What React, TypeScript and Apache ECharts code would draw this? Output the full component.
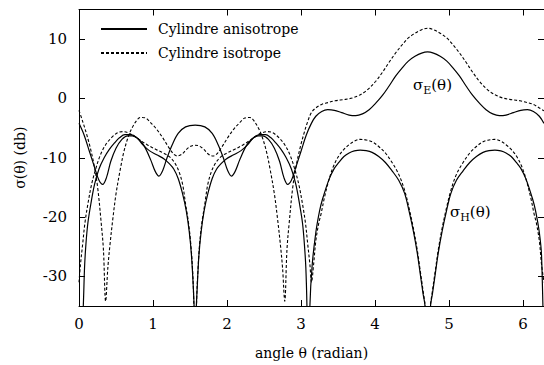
import React, { useEffect, useRef } from "react";
import * as echarts from "echarts";

const FONT = "DejaVu Serif";

const legendNames = ["Cylindre anisotrope", "Cylindre isotrope"];
const xTitle = "angle θ (radian)";
const yTitle = "σ(θ) (db)";

// σE(θ) – anisotropic cylinder (solid)
const sigmaEAniso: [number, number][] = [
  [0, -4.2], [0.07, -6.2], [0.14, -8.9], [0.22, -12.0], [0.27, -13.8], [0.32, -14.5], [0.37, -13.4],
  [0.43, -10.6], [0.5, -8.4], [0.58, -6.9], [0.66, -6.3], [0.72, -6.3], [0.8, -6.8], [0.88, -8.0],
  [0.97, -10.4], [1.03, -12.3], [1.08, -13.1], [1.13, -12.2], [1.19, -10.0], [1.26, -7.8], [1.34, -5.9],
  [1.44, -4.8], [1.57, -4.5], [1.7, -4.8], [1.8, -5.9], [1.88, -7.8], [1.95, -10.0], [2.01, -12.2],
  [2.06, -13.1], [2.11, -12.3], [2.17, -10.4], [2.26, -8.0], [2.34, -6.8], [2.42, -6.3], [2.48, -6.3],
  [2.56, -6.9], [2.64, -8.4], [2.71, -10.6], [2.77, -13.4], [2.82, -14.5], [2.87, -13.8], [2.92, -12.0],
  [3.0, -8.9], [3.07, -6.2], [3.14, -4.2], [3.2, -3.0], [3.28, -2.2], [3.36, -1.9], [3.45, -2.0],
  [3.55, -2.4], [3.65, -2.8], [3.74, -2.9], [3.83, -2.6], [3.92, -1.9], [4.01, -0.8], [4.1, 0.5],
  [4.19, 2.1], [4.28, 3.8], [4.37, 5.2], [4.45, 6.3], [4.54, 7.1], [4.63, 7.65], [4.71, 7.85],
  [4.79, 7.65], [4.88, 7.1], [4.97, 6.3], [5.05, 5.2], [5.14, 3.8], [5.23, 2.1], [5.32, 0.5],
  [5.41, -0.8], [5.5, -1.9], [5.59, -2.6], [5.68, -2.9], [5.77, -2.8], [5.87, -2.4], [5.97, -2.0],
  [6.06, -1.9], [6.14, -2.2], [6.22, -3.0], [6.2832, -4.2],
];

// σE(θ) – isotropic cylinder (dashed)
const sigmaEIso: [number, number][] = [
  [0, -2.0], [0.05, -3.9], [0.1, -5.9], [0.15, -8.2], [0.2, -11.0], [0.25, -14.8], [0.3, -21],
  [0.33, -25.5], [0.36, -34.2], [0.39, -28.5], [0.42, -24.5], [0.46, -20], [0.5, -16.1], [0.56, -11.8],
  [0.61, -8.8], [0.67, -6.3], [0.72, -4.9], [0.78, -3.7], [0.83, -3.2], [0.9, -3.3], [0.97, -4.1],
  [1.05, -5.2], [1.13, -6.6], [1.21, -8.2], [1.28, -9.4], [1.33, -9.7], [1.39, -9.4], [1.46, -8.5],
  [1.52, -8.0], [1.57, -7.9], [1.62, -8.0], [1.68, -8.5], [1.75, -9.4], [1.81, -9.7], [1.86, -9.4],
  [1.93, -8.2], [2.01, -6.6], [2.09, -5.2], [2.17, -4.1], [2.24, -3.3], [2.31, -3.2], [2.36, -3.7],
  [2.42, -4.9], [2.47, -6.3], [2.53, -8.8], [2.58, -11.8], [2.64, -16.1], [2.68, -20], [2.72, -24.5],
  [2.75, -28.5], [2.78, -34.2], [2.81, -25.5], [2.84, -21], [2.89, -14.8], [2.94, -11.0], [2.99, -8.2],
  [3.04, -5.9], [3.09, -3.9], [3.14, -2.4], [3.2, -1.6], [3.28, -1.0], [3.36, -0.7], [3.46, -0.4],
  [3.6, -0.15], [3.7, 0.1], [3.78, 0.5], [3.85, 1.0], [3.92, 1.7], [4.01, 2.9], [4.1, 4.4],
  [4.19, 6.1], [4.28, 7.7], [4.37, 9.1], [4.45, 10.2], [4.54, 11.0], [4.63, 11.6], [4.71, 11.85],
  [4.79, 11.6], [4.88, 11.0], [4.97, 10.2], [5.05, 9.1], [5.14, 7.7], [5.23, 6.1], [5.32, 4.4],
  [5.41, 2.9], [5.5, 1.7], [5.57, 1.0], [5.64, 0.5], [5.72, 0.1], [5.82, -0.15], [5.96, -0.4],
  [6.06, -0.7], [6.14, -1.0], [6.22, -1.6], [6.2832, -2.1],
];

// σH(θ) – anisotropic cylinder (solid)
const sigmaHAniso: [number, number][] = [
  [0, -50], [0.03, -42], [0.058, -35], [0.075, -28.5], [0.094, -24.5], [0.12, -21], [0.16, -17.8],
  [0.21, -14.5], [0.27, -11.9], [0.34, -10], [0.41, -8.6], [0.48, -7.5], [0.55, -6.6], [0.62, -6.1],
  [0.7, -6.1], [0.78, -6.6], [0.86, -7.8], [0.95, -8.8], [1.05, -9.5], [1.15, -10.2], [1.22, -11.0],
  [1.28, -11.9], [1.34, -13.5], [1.4, -16.1], [1.45, -19], [1.49, -22.5], [1.52, -26.5], [1.545, -32],
  [1.56, -37], [1.5708, -50], [1.58, -37], [1.597, -32], [1.62, -26.5], [1.65, -22.5], [1.69, -19],
  [1.74, -16.1], [1.8, -13.5], [1.86, -11.9], [1.92, -11.0], [1.99, -10.2], [2.09, -9.5], [2.19, -8.8],
  [2.28, -7.8], [2.36, -6.6], [2.44, -6.1], [2.52, -6.1], [2.59, -6.6], [2.66, -7.5], [2.73, -8.6],
  [2.8, -10], [2.87, -11.9], [2.93, -14.5], [2.98, -17.8], [3.02, -21], [3.045, -24.5], [3.065, -28.5],
  [3.08, -35], [3.1, -50], [3.12, -35], [3.15, -28.2], [3.2, -22.6], [3.25, -19], [3.29, -17],
  [3.38, -13.6], [3.45, -11.8], [3.51, -10.8], [3.58, -9.8], [3.65, -9.2], [3.72, -8.85], [3.8, -8.7],
  [3.88, -8.8], [3.96, -9.1], [4.05, -9.8], [4.14, -10.8], [4.23, -12.2], [4.32, -13.8], [4.4, -16],
  [4.46, -19], [4.52, -22.5], [4.57, -26], [4.61, -29.5], [4.65, -33], [4.675, -35], [4.712, -50],
  [4.75, -35], [4.775, -33], [4.815, -29.5], [4.855, -26], [4.905, -22.5], [4.965, -19], [5.025, -16],
  [5.1, -13.8], [5.19, -12.2], [5.28, -10.8], [5.37, -9.8], [5.46, -9.1], [5.54, -8.8], [5.62, -8.7],
  [5.7, -8.85], [5.77, -9.2], [5.84, -9.8], [5.91, -10.8], [5.97, -11.8], [6.04, -13.6], [6.13, -17],
  [6.17, -19], [6.22, -22.6], [6.25, -26.5], [6.2832, -45],
];

// σH(θ) – isotropic cylinder (dashed)
const sigmaHIso: [number, number][] = [
  [0, -31], [0.02, -28], [0.05, -24.5], [0.08, -21], [0.12, -17.8], [0.17, -14.5], [0.23, -11.7],
  [0.29, -9.5], [0.36, -7.8], [0.44, -6.6], [0.52, -5.8], [0.59, -5.6], [0.67, -5.8], [0.74, -6.3],
  [0.81, -6.9], [0.92, -7.8], [1.04, -8.6], [1.14, -9.2], [1.22, -9.8], [1.29, -10.8], [1.35, -12.3],
  [1.4, -14.5], [1.44, -17.8], [1.48, -21], [1.51, -24.5], [1.535, -29], [1.55, -34], [1.5708, -50],
  [1.59, -34], [1.607, -29], [1.63, -24.5], [1.66, -21], [1.7, -17.8], [1.74, -14.5], [1.79, -12.3],
  [1.85, -10.8], [1.92, -9.8], [2.0, -9.2], [2.1, -8.6], [2.22, -7.8], [2.33, -6.9], [2.4, -6.3],
  [2.47, -5.8], [2.55, -5.6], [2.62, -5.8], [2.7, -6.6], [2.78, -7.8], [2.85, -9.5], [2.91, -11.7],
  [2.97, -14.5], [3.02, -17.8], [3.06, -21], [3.09, -24.5], [3.12, -28], [3.1416, -31], [3.17, -28],
  [3.2, -24], [3.24, -21], [3.27, -19.5], [3.32, -16.5], [3.38, -13.6], [3.44, -11.4], [3.51, -9.7],
  [3.58, -8.6], [3.65, -7.8], [3.72, -7.2], [3.8, -6.9], [3.88, -7.0], [3.96, -7.3], [4.05, -8.1],
  [4.14, -9.2], [4.23, -10.8], [4.32, -12.8], [4.4, -15.5], [4.46, -18.5], [4.52, -22], [4.57, -25.5],
  [4.61, -29], [4.65, -32.5], [4.68, -35.5], [4.712, -50], [4.745, -35.5], [4.775, -32.5], [4.815, -29],
  [4.855, -25.5], [4.905, -22], [4.965, -18.5], [5.025, -15.5], [5.1, -12.8], [5.19, -10.8], [5.28, -9.2],
  [5.37, -8.1], [5.46, -7.3], [5.54, -7.0], [5.62, -6.9], [5.7, -7.2], [5.77, -7.8], [5.84, -8.6],
  [5.91, -9.7], [5.98, -11.4], [6.04, -13.6], [6.1, -16.5], [6.15, -19.5], [6.18, -21], [6.22, -24],
  [6.25, -28], [6.2832, -31],
];

const X_MIN = 0;
const X_MAX = 2 * Math.PI;
const Y_MIN = -35;
const Y_MAX = 15;

export default function App() {
  const ref = useRef<HTMLDivElement>(null);
  useEffect(() => {
    if (!ref.current) return;
    const chart = echarts.init(ref.current, null, { renderer: "svg" });
    const solid = { color: "#000", width: 1.2, type: "solid" as const };
    const dashed = { color: "#000", width: 1.1, type: [3, 2] as any };
    const axisBase = {
      type: "value" as const,
      axisLine: { show: true, onZero: false, lineStyle: { color: "#000", width: 1 } },
      axisTick: { show: true, inside: true, length: 6, lineStyle: { color: "#000", width: 1 } },
      splitLine: { show: false },
    };
    const ls = (size: number) => ({ fontFamily: FONT, fontSize: size, color: "#000" });
    const rich = {
      m: { fontFamily: FONT, fontSize: 15, color: "#000", lineHeight: 22, verticalAlign: "middle" },
      s: { fontFamily: FONT, fontSize: 11, color: "#000", lineHeight: 22, verticalAlign: "bottom" },
    };
    chart.setOption({
      animation: false,
      backgroundColor: "#fff",
      textStyle: { fontFamily: FONT },
      grid: { left: 79, top: 9.5, width: 467, height: 297.5, containLabel: false },
      legend: {
        orient: "vertical",
        left: 95,
        top: 17,
        itemWidth: 46,
        itemHeight: 12,
        itemGap: 10,
        selectedMode: false,
        data: legendNames,
        itemStyle: { opacity: 0 },
        textStyle: { ...ls(14), padding: [0, 0, 0, 6] },
      },
      xAxis: [
        {
          ...axisBase,
          position: "bottom",
          min: X_MIN,
          max: X_MAX,
          interval: 1,
          name: xTitle,
          nameLocation: "middle",
          nameGap: 40,
          nameTextStyle: ls(14),
          axisLabel: { ...ls(15), margin: 10, showMaxLabel: false },
        },
        {
          ...axisBase,
          position: "top",
          min: X_MIN,
          max: X_MAX,
          interval: 1,
          axisLabel: { show: false },
        },
      ],
      yAxis: [
        {
          ...axisBase,
          position: "left",
          min: Y_MIN,
          max: Y_MAX,
          splitNumber: 5,
          name: yTitle,
          nameLocation: "middle",
          nameGap: 52,
          nameTextStyle: ls(14),
          axisLabel: { ...ls(15), margin: 12, showMinLabel: false, showMaxLabel: false },
        },
        {
          ...axisBase,
          position: "right",
          min: Y_MIN,
          max: Y_MAX,
          splitNumber: 5,
          axisLabel: { show: false },
        },
      ],
      series: [
        { name: legendNames[0], type: "line", data: sigmaEAniso, lineStyle: solid, itemStyle: { color: "#000" } },
        { name: legendNames[1], type: "line", data: sigmaEIso, lineStyle: dashed, itemStyle: { color: "#000" } },
        { name: legendNames[0], type: "line", data: sigmaHAniso, lineStyle: solid, itemStyle: { color: "#000" } },
        { name: legendNames[1], type: "line", data: sigmaHIso, lineStyle: dashed, itemStyle: { color: "#000" } },
      ].map((s) => ({
        ...s,
        symbol: "none",
        showSymbol: false,
        smooth: 0.35,
        clip: true,
        silent: true,
        xAxisIndex: 0,
        yAxisIndex: 0,
      })),
      graphic: [
        { type: "text", left: 413, top: 77, style: { text: "{m|σ}{s|E}{m|(θ)}", rich } },
        { type: "text", left: 450, top: 204, style: { text: "{m|σ}{s|H}{m|(θ)}", rich } },
      ],
    });
    return () => chart.dispose();
  }, []);
  return (
    <div
      ref={ref}
      style={{ position: "absolute", left: 0, top: 0, width: 544, height: 365, background: "#fff" }}
    />
  );
}
